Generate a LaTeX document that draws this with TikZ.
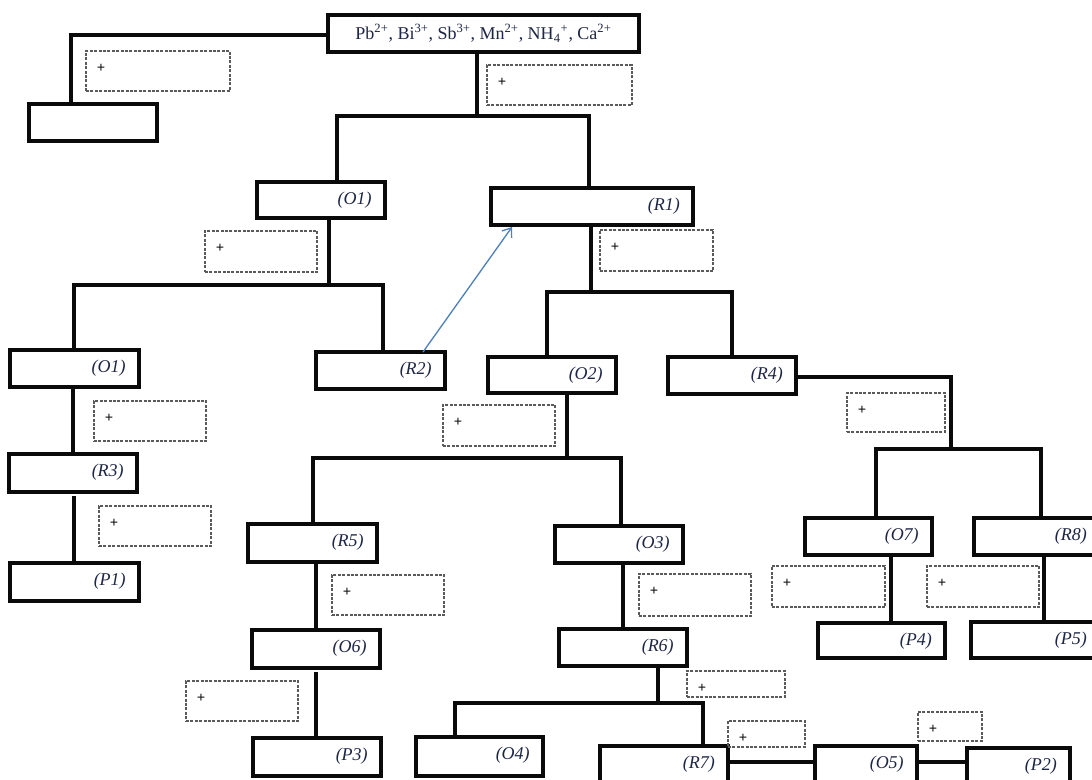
\documentclass[tikz,border=0pt]{standalone}
\usepackage{fontspec}
\setmainfont{Liberation Serif}
\usetikzlibrary{fit,calc,arrows.meta}

\definecolor{ink}{RGB}{10,10,10}
\definecolor{lblink}{RGB}{30,38,70}
\definecolor{arrowblue}{RGB}{79,129,189}
\definecolor{dashgray}{RGB}{90,90,90}

\tikzset{
  bx/.style={draw=ink, line width=2.35pt, inner sep=0pt, outer sep=0pt},
  nb/.style={draw=dashgray, line width=0.8pt, dash pattern=on 2.2pt off 1.1pt, inner sep=0pt, outer sep=0pt},
  lbl/.style={font=\fontsize{13.5}{13.5}\selectfont\itshape, text=lblink, inner sep=0pt},
  toptext/.style={font=\fontsize{13.5}{13.5}\selectfont, text=lblink, inner sep=0pt},
  plus/.style={font=\fontsize{11}{11}\selectfont\bfseries, text=ink, inner sep=0pt},
  wire/.style={draw=ink, line width=2.35pt},
  recycle/.style={draw=arrowblue, line width=1pt, -{Straight Barb[length=6pt,width=9pt]}}
}

% solid box with an italic tag near its right end
\newcommand\chembox[6]{%
  \node[bx, fit={(#2,#3) (#4,#5)}] (#1) {};
  \node[lbl, anchor=east] (#1-t) at ($(#1.north east)+(-13,18)$) {#6};}
% dashed reagent box with a leading plus sign
\newcommand\reagbox[5]{%
  \node[nb, fit={(#2,#3) (#4,#5)}] (#1) {};
  \node[plus] (#1-p) at ($(#1.north west)+(15,17)$) {+};}

\begin{document}
\begin{tikzpicture}[x=0.75pt,y=-0.75pt]
\useasboundingbox (0,0) rectangle (1092,779);
\clip (0,0) rectangle (1092,779);
\fill[white] (0,0) rectangle (1092,779);

% starting mixture
\node[bx, fit={(328,15) (639,52)}] (T) {};
\node[toptext] (T-t) at (T.center) {Pb\textsuperscript{2+}, Bi\textsuperscript{3+}, Sb\textsuperscript{3+}, Mn\textsuperscript{2+}, NH\textsubscript{4}\textsuperscript{+}, Ca\textsuperscript{2+}};

% boxes
\node[bx, fit={(29,104) (157,141)}] (A) {};
\chembox{O1}{257}{182}{385}{218}{(O1)}
\chembox{R1}{491}{188}{693}{225}{(R1)}
\chembox{O1b}{10}{350}{139}{387}{(O1)}
\chembox{R2}{316}{352}{445}{389}{(R2)}
\chembox{O2}{488}{357}{616}{393}{(O2)}
\chembox{R4}{668}{357}{796}{394}{(R4)}
\chembox{R3}{9}{454}{137}{492}{(R3)}
\chembox{R5}{248}{524}{377}{562}{(R5)}
\chembox{O3}{555}{526}{683}{563}{(O3)}
\chembox{O7}{805}{518}{932}{555}{(O7)}
\chembox{R8}{974}{518}{1100}{555}{(R8)}
\chembox{P1}{10}{563}{139}{601}{(P1)}
\chembox{P4}{818}{623}{945}{658}{(P4)}
\chembox{P5}{971}{622}{1100}{658}{(P5)}
\chembox{O6}{252}{630}{380}{668}{(O6)}
\chembox{R6}{559}{629}{687}{666}{(R6)}
\chembox{P3}{253}{738}{381}{776}{(P3)}
\chembox{O4}{416}{737}{543}{776}{(O4)}
\chembox{R7}{600}{746}{728}{800}{(R7)}
\chembox{O5}{815}{746}{917}{800}{(O5)}
\chembox{P2}{967}{748}{1070}{800}{(P2)}

% reagent boxes
\reagbox{D1}{86}{51}{230}{91}
\reagbox{D2}{487}{65}{632}{105}
\reagbox{D3}{205}{231}{317}{272}
\reagbox{D4}{600}{230}{713}{271}
\reagbox{D5}{94}{401}{206}{441}
\reagbox{D6}{443}{405}{555}{446}
\reagbox{D7}{847}{393}{945}{432}
\reagbox{D8}{99}{506}{211}{546}
\reagbox{D9}{332}{575}{444}{615}
\reagbox{D10}{639}{574}{751}{616}
\reagbox{D11}{772}{566}{885}{607}
\reagbox{D12}{927}{566}{1039}{607}
\reagbox{D13}{687}{671}{785}{697}
\reagbox{D14}{186}{681}{298}{721}
\reagbox{D15}{728}{721}{805}{747}
\reagbox{D16}{918}{712}{982}{741}

% junction points
\coordinate (jA) at (71,35);
\coordinate (j1) at (477,116);  \coordinate (j1L) at (337,116); \coordinate (j1R) at (589,116);
\coordinate (j2) at (329,285);  \coordinate (j2L) at (74,285);  \coordinate (j2R) at (383,285);
\coordinate (j3) at (591,292);  \coordinate (j3L) at (547,292); \coordinate (j3R) at (732,292);
\coordinate (j4) at (567,458);  \coordinate (j4L) at (313,458); \coordinate (j4R) at (621,458);
\coordinate (j5) at (951,377);  \coordinate (j5b) at (951,449);
\coordinate (j5L) at (876,449); \coordinate (j5R) at (1041,449);
\coordinate (j6) at (658,703);  \coordinate (j6L) at (455,703); \coordinate (j6R) at (703,703);
\coordinate (c1) at (73,0);   \coordinate (c2) at (74,496);
\coordinate (c3) at (316,0);  \coordinate (c4) at (316,672);
\coordinate (c5) at (623,0);  \coordinate (c6) at (891,0);  \coordinate (c7) at (1044,0);
\coordinate (jy) at (0,762);

% connectors
\draw[wire] (T.west |- jA) -- (jA) -- (jA |- A.north);
\draw[wire] (j1 |- T.south) -- (j1);
\draw[wire] (j1L |- O1.north) -- (j1L) -- (j1R) -- (j1R |- R1.north);
\draw[wire] (j2 |- O1.south) -- (j2);
\draw[wire] (j2L |- O1b.north) -- (j2L) -- (j2R) -- (j2R |- R2.north);
\draw[wire] (j3 |- R1.south) -- (j3);
\draw[wire] (j3L |- O2.north) -- (j3L) -- (j3R) -- (j3R |- R4.north);
\draw[wire] (c1 |- O1b.south) -- (c1 |- R3.north);
\draw[wire] (c2) -- (c2 |- P1.north);
\draw[wire] (j4 |- O2.south) -- (j4);
\draw[wire] (j4L |- R5.north) -- (j4L) -- (j4R) -- (j4R |- O3.north);
\draw[wire] (R4.east |- j5) -- (j5) -- (j5b);
\draw[wire] (j5L |- O7.north) -- (j5L) -- (j5R) -- (j5R |- R8.north);
\draw[wire] (c3 |- R5.south) -- (c3 |- O6.north);
\draw[wire] (c4) -- (c4 |- P3.north);
\draw[wire] (c5 |- O3.south) -- (c5 |- R6.north);
\draw[wire] (j6 |- R6.south) -- (j6);
\draw[wire] (j6L |- O4.north) -- (j6L) -- (j6R) -- (j6R |- R7.north);
\draw[wire] (R7.east |- jy) -- (O5.west |- jy);
\draw[wire] (O5.east |- jy) -- (P2.west |- jy);
\draw[wire] (c6 |- O7.south) -- (c6 |- P4.north);
\draw[wire] (c7 |- R8.south) -- (c7 |- P5.north);

% R2 is sent back to R1
\draw[recycle] ($(R2.north west)+(107,0)$) -- ($(R1.south west)+(21,2)$);
\end{tikzpicture}
\end{document}
